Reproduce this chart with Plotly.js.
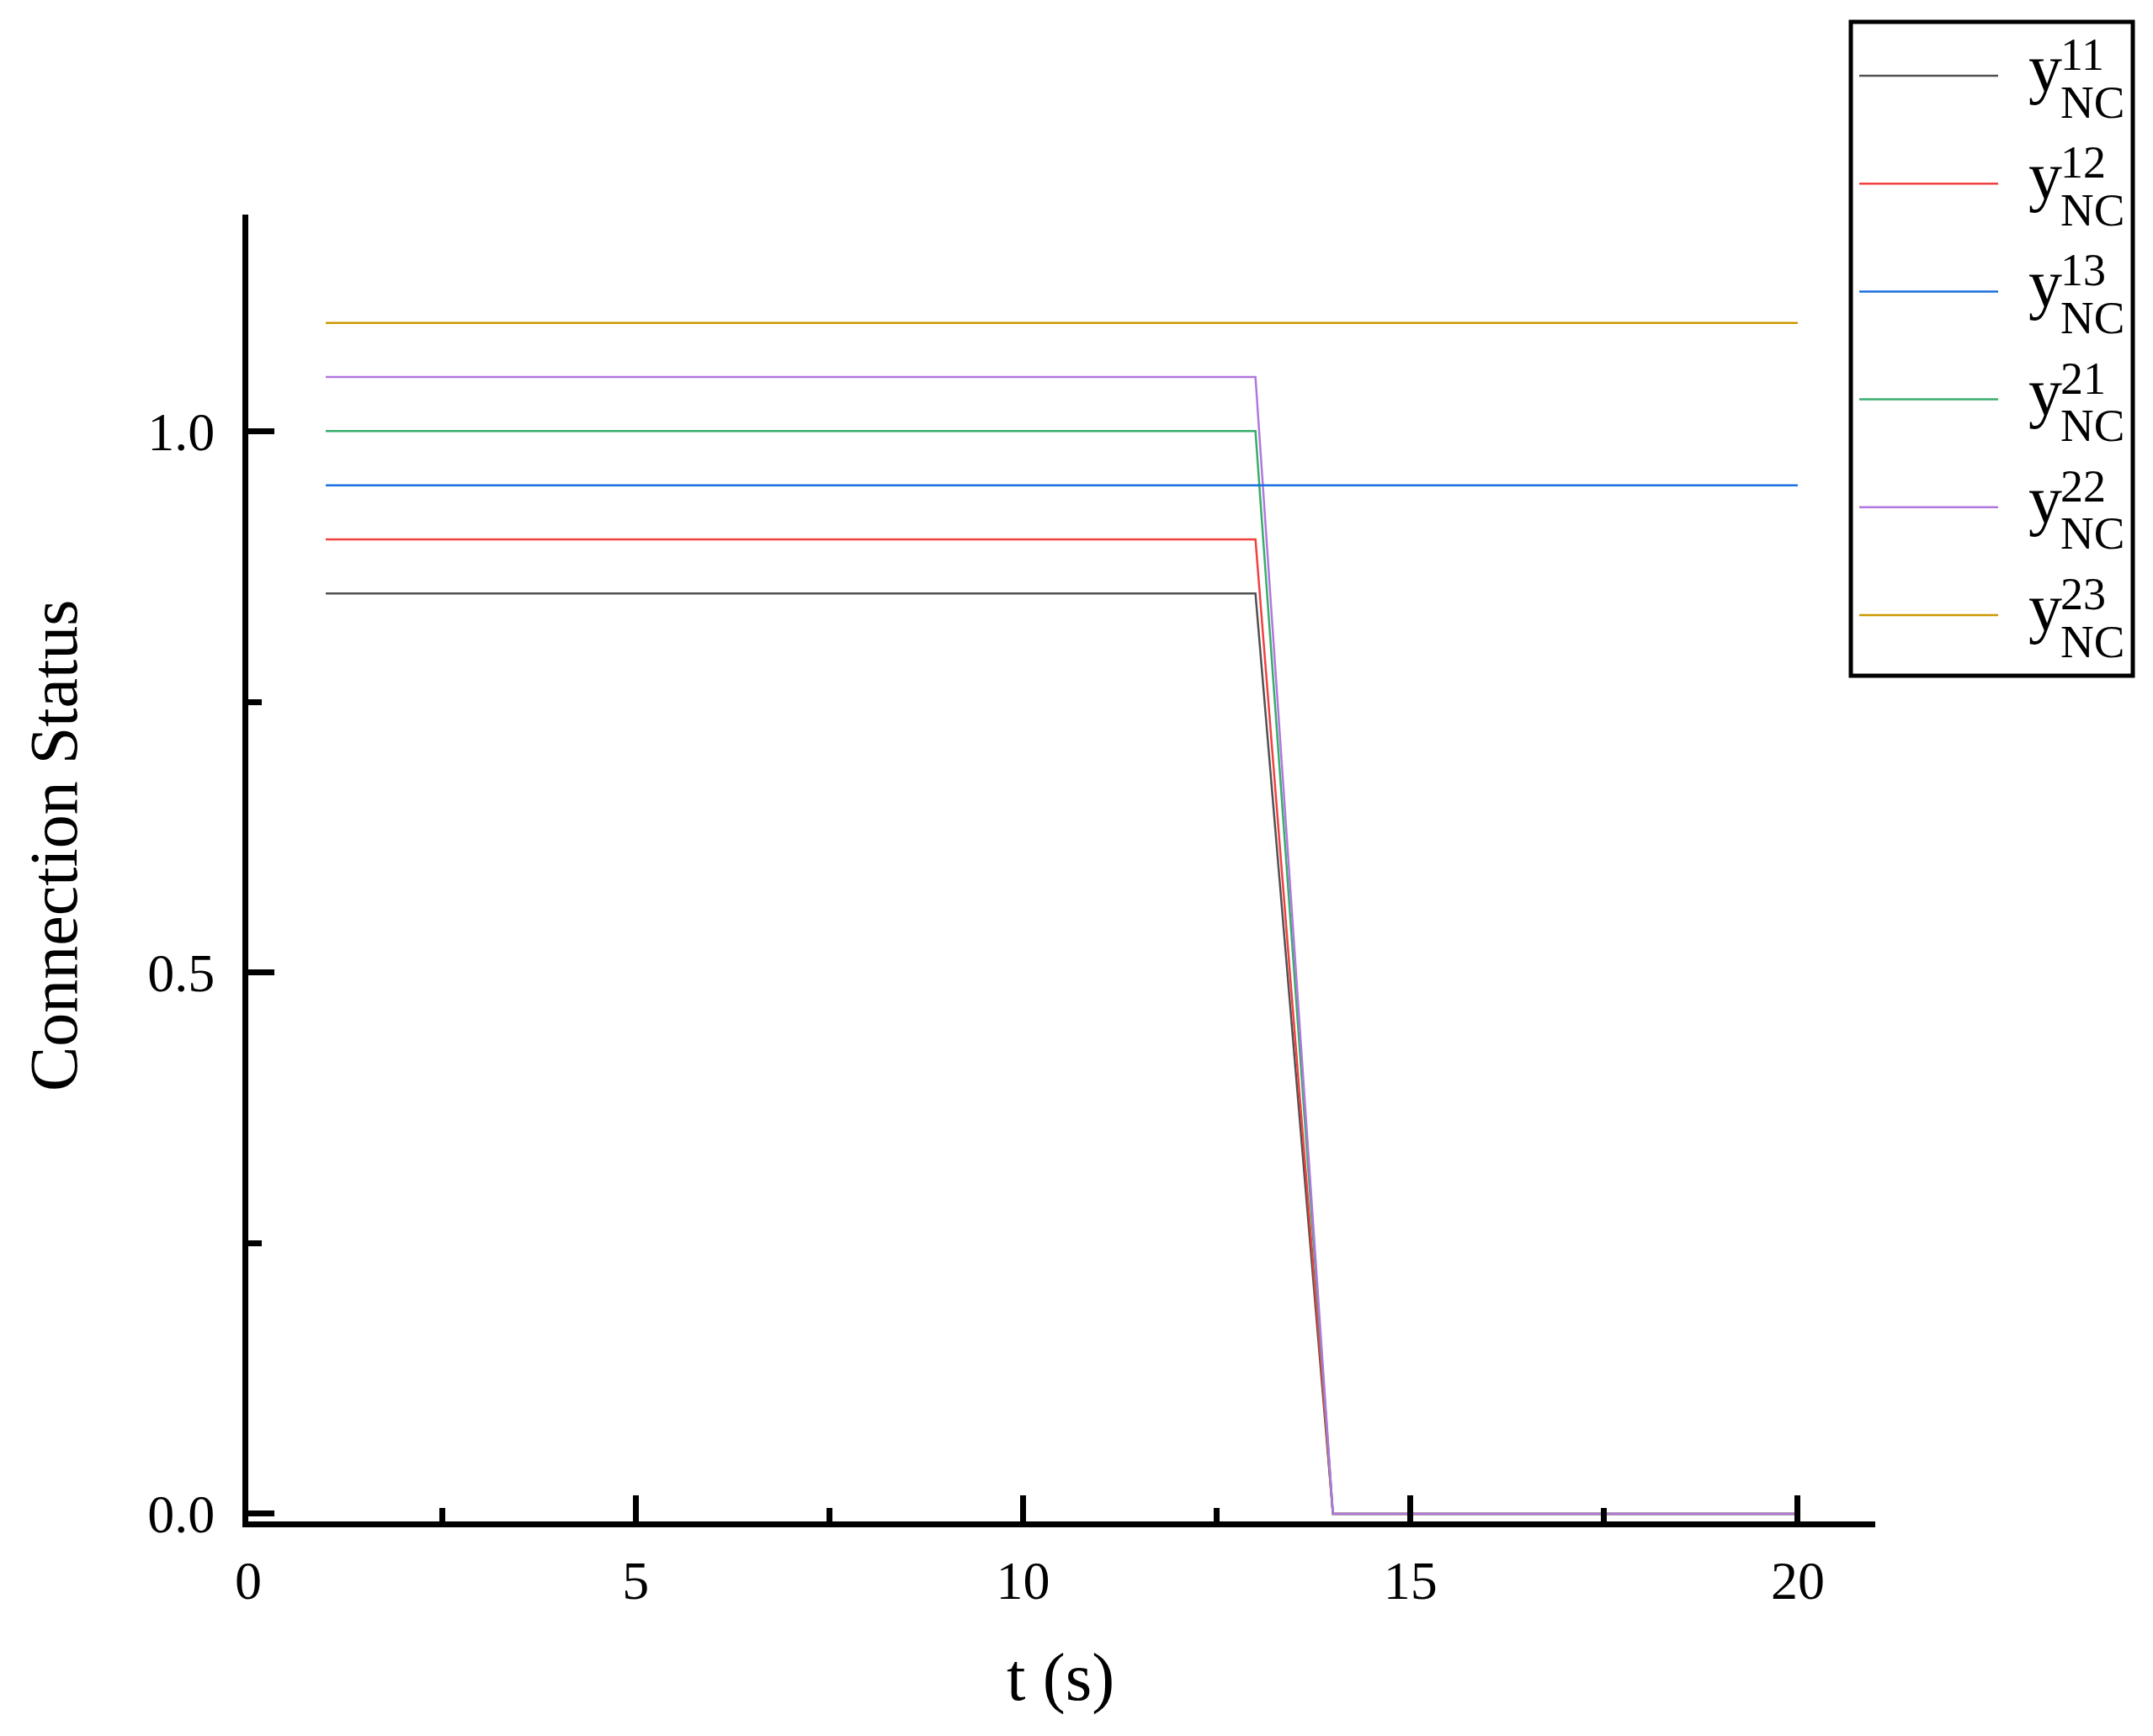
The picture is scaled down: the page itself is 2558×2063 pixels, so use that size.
<!DOCTYPE html>
<html>
<head>
<meta charset="utf-8">
<script src="https://cdn.plot.ly/plotly-3.0.1.min.js"></script>
<style>
  html, body { margin: 0; padding: 0; background: #fff; }
  #chart { width: 2558px; height: 2063px; }
</style>
</head>
<body>
<div id="chart"></div>
<script>
// time steps (s)
const t = [1, 2, 3, 4, 5, 6, 7, 8, 9, 10, 11, 12, 13, 14, 15, 16, 17, 18, 19, 20];

// connection status of each link, offset so the curves don't overlap
const y11 = [0.85, 0.85, 0.85, 0.85, 0.85, 0.85, 0.85, 0.85, 0.85, 0.85, 0.85, 0.85, 0.85, 0, 0, 0, 0, 0, 0, 0];
const y12 = [0.9, 0.9, 0.9, 0.9, 0.9, 0.9, 0.9, 0.9, 0.9, 0.9, 0.9, 0.9, 0.9, 0, 0, 0, 0, 0, 0, 0];
const y13 = [0.95, 0.95, 0.95, 0.95, 0.95, 0.95, 0.95, 0.95, 0.95, 0.95, 0.95, 0.95, 0.95, 0.95, 0.95, 0.95, 0.95, 0.95, 0.95, 0.95];
const y21 = [1.0, 1.0, 1.0, 1.0, 1.0, 1.0, 1.0, 1.0, 1.0, 1.0, 1.0, 1.0, 1.0, 0, 0, 0, 0, 0, 0, 0];
const y22 = [1.05, 1.05, 1.05, 1.05, 1.05, 1.05, 1.05, 1.05, 1.05, 1.05, 1.05, 1.05, 1.05, 0, 0, 0, 0, 0, 0, 0];
const y23 = [1.1, 1.1, 1.1, 1.1, 1.1, 1.1, 1.1, 1.1, 1.1, 1.1, 1.1, 1.1, 1.1, 1.1, 1.1, 1.1, 1.1, 1.1, 1.1, 1.1];

const seriesKeys = ["11", "12", "13", "21", "22", "23"];
const seriesValues = [y11, y12, y13, y21, y22, y23];
const seriesColors = ["#515151", "#F14040", "#1A6FDF", "#37AD6B", "#B177DE", "#CC9900"];
const drawOrder = [0, 1, 3, 4, 2, 5];

const xTickVals = [0, 5, 10, 15, 20];
const yTickVals = [0, 0.5, 1.0];

const FONT = "Liberation Serif, 'Times New Roman', serif";

// plot area in page pixels
const L = 295, R = 2228, T = 255, B = 1808;
const px2x = (px) => (px - L) / (R - L);
const py2y = (py) => (B - py) / (B - T);

const traces = drawOrder.map((i) => ({
  x: t,
  y: seriesValues[i],
  type: "scatter",
  mode: "lines",
  name: "y" + seriesKeys[i],
  line: { color: seriesColors[i], width: 2.5 },
  hoverinfo: "skip",
  showlegend: false,
}));

// hand-built legend so the super/subscripts can stack
const shapes = [
  {
    type: "rect",
    xref: "paper",
    yref: "paper",
    x0: px2x(2199),
    x1: px2x(2534),
    y0: py2y(803),
    y1: py2y(26),
    line: { color: "black", width: 5 },
    fillcolor: "rgba(0,0,0,0)",
  },
];
const annotations = [];

seriesKeys.forEach((key, i) => {
  const rowY = 90 + i * 128.2;
  shapes.push({
    type: "line",
    xref: "paper",
    yref: "paper",
    x0: px2x(2209),
    x1: px2x(2374),
    y0: py2y(rowY),
    y1: py2y(rowY),
    line: { color: seriesColors[i], width: 2.5 },
  });
  annotations.push(
    {
      xref: "paper", yref: "paper",
      x: px2x(2408), y: py2y(rowY + 18 - 27),
      xanchor: "left", yanchor: "middle",
      text: "y", showarrow: false,
      font: { family: FONT, size: 80, color: "black" },
    },
    {
      xref: "paper", yref: "paper",
      x: px2x(2446), y: py2y(rowY - 7 - 18),
      xanchor: "left", yanchor: "middle",
      text: key, showarrow: false,
      font: { family: FONT, size: 54, color: "black" },
    },
    {
      xref: "paper", yref: "paper",
      x: px2x(2446), y: py2y(rowY + 50 - 19),
      xanchor: "left", yanchor: "middle",
      text: "NC", showarrow: false,
      font: { family: FONT, size: 55, color: "black" },
    },
  );
});

// axis titles
annotations.push(
  {
    xref: "paper", yref: "paper",
    x: px2x(1260), y: py2y(1993),
    xanchor: "center", yanchor: "middle",
    text: "t (s)", showarrow: false,
    font: { family: FONT, size: 81, color: "black" },
  },
  {
    xref: "paper", yref: "paper",
    x: px2x(64), y: py2y(1005),
    xanchor: "center", yanchor: "middle",
    text: "Connection Status", showarrow: false, textangle: -90,
    font: { family: FONT, size: 80, color: "black" },
  },
);

const layout = {
  width: 2558,
  height: 2063,
  margin: { l: L, r: 2558 - R, t: T, b: 2063 - B, pad: 0 },
  paper_bgcolor: "white",
  plot_bgcolor: "white",
  font: { family: FONT, color: "black" },
  showlegend: false,
  xaxis: {
    range: [0, 21],
    tickvals: xTickVals,
    ticktext: xTickVals.map(String),
    ticks: "inside",
    ticklen: 31,
    tickwidth: 7,
    tickcolor: "black",
    minor: { dtick: 2.5, tick0: 0, ticks: "inside", ticklen: 16, tickwidth: 7, tickcolor: "black", showgrid: false },
    showline: true,
    linecolor: "black",
    linewidth: 7,
    showgrid: false,
    zeroline: false,
    tickfont: { family: FONT, size: 64, color: "black" },
    ticklabelstandoff: 8,
  },
  yaxis: {
    range: [-0.007, 1.2],
    tickvals: yTickVals,
    ticktext: yTickVals.map((v) => v.toFixed(1)),
    ticks: "inside",
    ticklen: 31,
    tickwidth: 7,
    tickcolor: "black",
    minor: { dtick: 0.25, tick0: 0, ticks: "inside", ticklen: 16, tickwidth: 7, tickcolor: "black", showgrid: false },
    showline: true,
    linecolor: "black",
    linewidth: 7,
    showgrid: false,
    zeroline: false,
    tickfont: { family: FONT, size: 64, color: "black" },
    ticklabelstandoff: 20,
  },
  shapes: shapes,
  annotations: annotations,
};

Plotly.newPlot("chart", traces, layout, { staticPlot: true, displayModeBar: false });
</script>
</body>
</html>
